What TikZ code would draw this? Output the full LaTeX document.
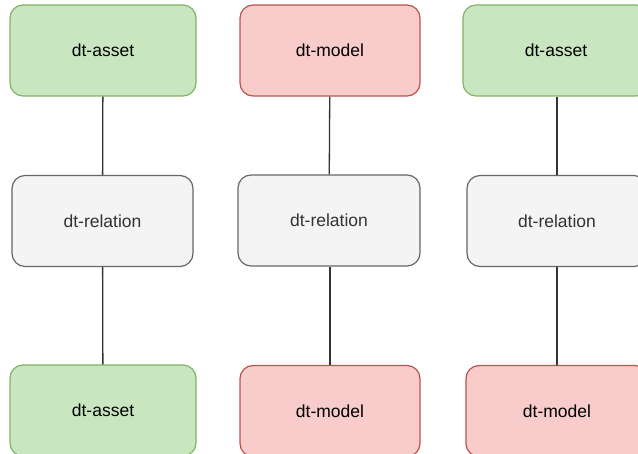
\documentclass[tikz,border=0pt]{standalone}
\usepackage{fontspec}
\setmainfont{Liberation Sans}
\definecolor{assetfill}{HTML}{C8E6C0}
\definecolor{assetline}{HTML}{82B366}
\definecolor{modelfill}{HTML}{F7CCCB}
\definecolor{modelline}{HTML}{B85450}
\definecolor{relfill}{HTML}{F4F4F4}
\definecolor{relline}{HTML}{666666}
\tikzset
{
  box/.style={rectangle,rounded corners=13pt,line width=1.2pt,minimum height=91pt,
    inner sep=0pt,font=\fontsize{17.5}{20}\selectfont},
  asset/.style={box,fill=assetfill,draw=assetline},
  model/.style={box,fill=modelfill,draw=modelline},
  relation/.style={box,fill=relfill,draw=relline,text=black!80},
  link/.style={line width=1.3pt,draw=black!80}
}

\begin{document}
\begin{tikzpicture}[x=1pt,y=-1pt,line join=round]
  \useasboundingbox (0,0) rectangle (638,454);
  \clip (0,0) rectangle (638,454);
  % left column
  \node[asset,minimum width=186pt]    (asset1) at (103,50.5)  {dt-asset};
  \node[relation,minimum width=181pt] (rel1)   at (102.5,221) {dt-relation};
  \node[asset,minimum width=186pt]    (asset2) at (103,410.5) {dt-asset};
  % middle column
  \node[model,minimum width=180pt]    (model1) at (330,50.5)  {dt-model};
  \node[relation,minimum width=182pt] (rel2)   at (329,220.5) {dt-relation};
  \node[model,minimum width=180pt]    (model2) at (330,411)   {dt-model};
  % right column
  \node[asset,minimum width=186pt]    (asset3) at (556,50.5)  {dt-asset};
  \node[relation,minimum width=180pt] (rel3)   at (557,221)   {dt-relation};
  \node[model,minimum width=182pt]    (model3) at (557,411)   {dt-model};
  % links
  \draw[link] (asset1) -- (rel1) -- (asset2);
  \draw[link] (model1) -- (rel2);
  \draw[link] (rel2.south -| model2) -- (model2);
  \draw[link] (asset3.south -| rel3) -- (rel3) -- (model3);
\end{tikzpicture}
\end{document}
